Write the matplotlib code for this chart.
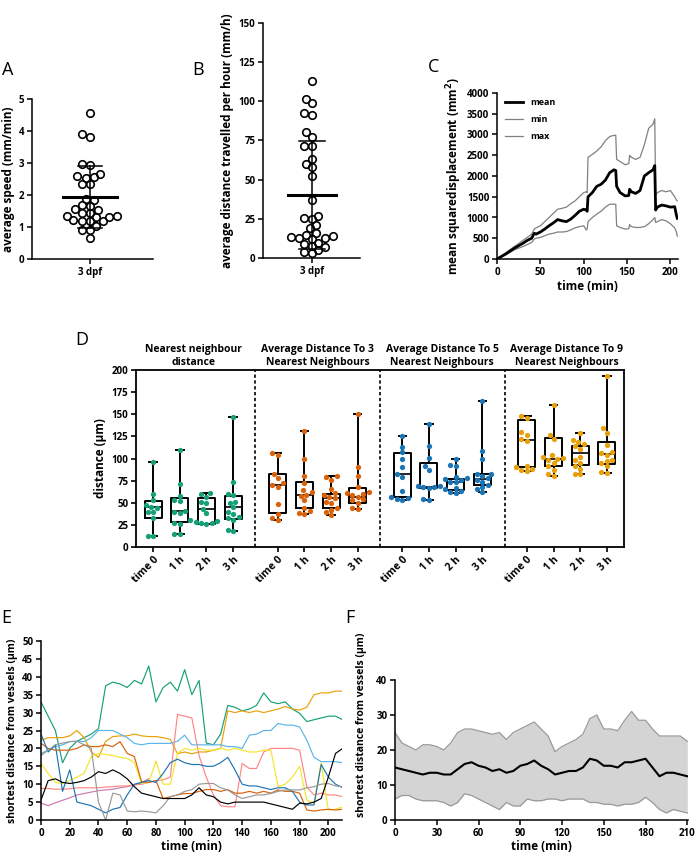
import numpy as np
import matplotlib
matplotlib.use('Agg')
import matplotlib.pyplot as plt
from matplotlib.lines import Line2D
import matplotlib.transforms as mtransforms

plt.rcParams['font.family'] = ['Open Sans', 'DejaVu Sans']
plt.rcParams['font.weight'] = 'bold'
plt.rcParams['axes.labelweight'] = 'bold'
plt.rcParams['mathtext.default'] = 'bf'

W, H = 697, 863
fig = plt.figure(figsize=(W / 100, H / 100), dpi=100)

# ---------------- data ----------------
speed = [4.57, 3.9, 3.82, 2.98, 2.94, 2.66, 2.6, 2.53, 2.55, 2.35, 2.33, 1.88, 1.84,
         1.7, 1.65, 1.55, 1.52, 1.45, 1.43, 1.35, 1.32, 1.3, 1.35, 1.2, 1.2, 1.22,
         1.2, 1.03, 0.9, 0.9, 0.66]
dist_hour = [113, 101.5, 99, 92.5, 91.5, 80.5, 77, 71.5, 71.5, 63, 60, 58, 52.5, 37,
             27, 25.5, 25, 21, 19, 16, 15, 14, 13.5, 13, 12.5, 12, 9.5, 9, 7.5, 7, 5, 4, 3]

msd_t = [0, 10, 20, 30, 35, 40, 43, 45, 50, 55, 60, 65, 70, 75, 80, 85, 90, 95, 100,
         103, 104, 105, 110, 115, 120, 125, 130, 135, 137, 138, 142, 148, 152, 153,
         155, 160, 165, 170, 175, 180, 182, 183, 185, 190, 195, 200, 205, 207, 208]
msd_mean = [0, 120, 260, 380, 450, 500, 620, 600, 650, 720, 800, 870, 950, 920, 900,
            960, 1050, 1150, 1200, 1180, 1150, 1500, 1600, 1750, 1800, 1900, 2080, 2150,
            2130, 1750, 1600, 1520, 1530, 1680, 1620, 1580, 1650, 2000, 2080, 2150, 2250,
            1180, 1250, 1300, 1280, 1250, 1260, 1050, 980]
msd_min = [0, 150, 300, 450, 520, 600, 720, 750, 800, 900, 1000, 1100, 1200, 1220, 1250,
           1330, 1400, 1500, 1600, 1620, 1600, 2450, 2520, 2600, 2700, 2850, 2950, 2980,
           2980, 2400, 2350, 2270, 2300, 2500, 2450, 2400, 2450, 2750, 3150, 3250, 3380,
           1550, 1600, 1650, 1620, 1650, 1500, 1420, 1400]
msd_max = [0, 100, 220, 300, 350, 400, 480, 500, 520, 560, 600, 620, 650, 650, 660, 700,
           750, 780, 800, 700, 720, 900, 1000, 1080, 1150, 1250, 1320, 1320, 1320, 800,
           760, 720, 730, 830, 780, 760, 760, 780, 850, 950, 1000, 880, 900, 950, 920,
           850, 750, 650, 550]

d_titles = ['Nearest neighbour\ndistance', 'Average Distance To 3\nNearest Neighbours',
            'Average Distance To 5\nNearest Neighbours', 'Average Distance To 9\nNearest Neighbours']
d_ticks = ['time 0', '1 h', '2 h', '3 h']
d_colors = ['#16a077', '#d9620a', '#1b75b5', '#e8a10a']
d_points = [
    [[96, 60, 53, 47, 45, 44, 40, 39, 33, 12, 12],
     [110, 71, 58, 53, 52, 41, 40, 38, 27, 26, 15, 15],
     [61, 60, 56, 51, 50, 43, 38, 31, 29, 28, 27, 27, 26],
     [147, 73, 60, 59, 51, 50, 45, 40, 37, 34, 33, 31, 19, 18]],
    [[106, 104, 83, 78, 72, 70, 68, 49, 37, 33, 31],
     [131, 99, 80, 72, 64, 62, 59, 58, 53, 44, 41, 38, 37],
     [80, 79, 76, 66, 61, 59, 57, 55, 51, 50, 44, 42, 40, 36],
     [150, 90, 80, 68, 62, 61, 60, 59, 57, 54, 53, 50, 44, 43]],
    [[125, 113, 107, 99, 90, 83, 79, 63, 56, 55, 54, 53],
     [139, 114, 101, 92, 87, 69, 69, 68, 68, 67, 54, 53],
     [100, 93, 92, 79, 78, 77, 76, 74, 73, 67, 65, 63, 62, 61],
     [165, 108, 100, 83, 82, 80, 78, 76, 74, 70, 68, 65, 62]],
    [[148, 146, 130, 127, 122, 120, 92, 90, 88, 87, 86],
     [161, 127, 122, 104, 102, 101, 100, 98, 95, 91, 87, 83, 80],
     [129, 121, 119, 116, 114, 111, 102, 98, 95, 92, 88, 83, 82],
     [193, 134, 129, 115, 107, 106, 104, 98, 97, 95, 91, 85, 84]],
]
d_q1 = [[33, 28, 26, 32], [38, 44, 44, 50], [56, 67, 64, 70], [90, 92, 93, 94]]
d_med = [[45, 41, 43, 45], [70, 59, 55, 57], [83, 68, 74, 77], [121, 100, 106, 105]]
d_q3 = [[52, 55, 55, 58], [82, 74, 60, 67], [106, 95, 77, 83], [144, 123, 114, 119]]

e_t = list(range(0, 211, 5))
e_series = {
    '#16a077': [33, 29, 25, 16, 20, 22, 23, 24, 25.5, 37.5, 38.5, 38, 37, 39, 38, 43, 33, 37,
                38.5, 36, 42, 35, 39, 21.5, 21, 24, 32, 31.5, 30.5, 31, 32, 35.5, 33, 32.5,
                33, 31, 29.8, 27.5, 28, 28.5, 29, 29, 28],
    '#e8a10a': [22.3, 23, 23, 23, 23.5, 25, 23, 19, 17.5, 22, 23.3, 23.5, 23.5, 24, 23.5,
                23.3, 23.3, 23, 22.5, 18.5, 19, 18.5, 19, 19, 19.5, 20, 30.5, 30, 30.5, 30,
                30.5, 30, 30.5, 31, 31.7, 31, 30.7, 31.5, 35, 35.5, 35.5, 36, 36],
    '#5ab4e8': [18.6, 19.5, 20.5, 21, 21.9, 22, 21.9, 23, 25, 25, 25, 24, 23, 21.4, 21, 21.4,
                21.4, 21.4, 21.4, 22, 23.7, 21, 21, 21, 21, 21, 20.5, 20.5, 20, 23.7, 24, 25,
                25, 27, 26.5, 26.5, 26, 22.3, 17.5, 16.3, 16.3, 16.3, 16],
    '#ff8585': [8.8, 8.8, 8.6, 8.6, 8.7, 9, 9, 9, 9, 9.2, 9.3, 9.5, 9.5, 9.8, 10, 10.5, 11,
                11.2, 12, 29.5, 29, 28.5, 18, 12, 7, 4, 3.7, 3.7, 15.8, 14.4, 14.4, 19, 20,
                20, 20, 20, 19.5, 9.3, 7, 7.5, 7, 7, 6.5],
    '#f5e52a': [15.8, 13, 10.5, 10.2, 11, 12, 13, 17.7, 18.6, 18.3, 18, 17.5, 17.2, 16, 10.2,
                10.5, 16.5, 10, 10, 18.6, 20, 19.5, 20, 19.5, 19.5, 20, 19.5, 20, 19.5, 19,
                19, 19.5, 19.5, 9.3, 10, 12, 15, 5.5, 4.7, 16, 2.8, 3, 3.7],
    '#d9620a': [21.4, 20, 19.5, 19.5, 19.5, 20, 21, 20.5, 20.5, 21, 20.5, 21.9, 18.6, 17.7,
                10.7, 10.5, 11, 6, 6.5, 7, 7.4, 7.4, 8, 8.5, 8.5, 8, 8.5, 7.5, 7.5, 8, 7.5,
                8, 7.5, 8.4, 8, 8, 7.5, 2.8, 2.5, 2.8, 3, 2.8, 3],
    '#1b75b5': [24, 19, 21, 8, 14, 5, 4.5, 4, 3, 2, 3, 3.5, 7, 10, 10.5, 11, 10.5, 13, 16, 17,
                16, 15.5, 15.5, 15, 15, 16, 17.5, 14, 10, 9.5, 9.5, 9, 8.5, 9, 9, 8, 5, 4.2,
                4.2, 15.5, 12, 10, 9],
    '#999999': [18, 19.5, 21, 21.5, 21.9, 22, 21, 20, 5, 0, 7.5, 7, 2.5, 2.3, 2.5, 2.3, 2, 4,
                6.5, 7, 8, 8.5, 10, 10.2, 10.2, 9, 8.4, 7, 6, 6.5, 7, 7, 7.4, 8, 8.4, 8.4,
                8.4, 9, 9.3, 10, 10.2, 9.5, 9.3],
    '#000000': [5.6, 11, 11.5, 10.5, 10.2, 10.5, 11, 12, 13.5, 13, 14, 13, 11.5, 9.3, 7.5, 7,
                6.5, 6, 6, 6, 6, 7, 9, 7, 6.5, 5, 4.5, 5, 5, 5, 5, 5, 4.5, 4, 3.5, 3, 4.7,
                4.5, 5, 6, 12, 18.6, 20],
}
e_pink_t = list(range(0, 76, 5))
e_pink = [4.7, 4, 4.8, 5.5, 6.2, 7, 7.4, 7.8, 8.2, 8.4, 8.6, 9, 9.3, 9.8, 10.5, 11.5]

f_t = list(range(0, 211, 5))
f_upper = [25, 22, 21, 20, 21.5, 21.5, 21, 20, 22, 25, 26, 26, 25.5, 25, 24.5, 25, 23, 25,
           26, 27, 28, 26, 24, 19.5, 21, 22, 23, 24.5, 29, 30, 26, 26, 25.5, 28.5, 31, 28.5,
           28.5, 26, 24, 24, 24, 24, 22.5]
f_lower = [6, 7, 7, 6, 5.5, 5.5, 5.5, 5, 4, 5, 7.5, 7, 6, 5, 4, 3, 5, 4, 4, 6, 5.5, 5.5, 6,
           6, 5.5, 6, 6, 6, 5, 5, 4.5, 4.5, 4, 4.5, 4.5, 5, 6.5, 5, 3, 2, 3, 2.5, 2]
f_mean = [15, 14.5, 14, 13.5, 13, 13.5, 13.5, 13, 13, 14.5, 16, 16.5, 15.5, 15, 14, 14.5,
          13.5, 14, 15.5, 16, 17, 15.5, 14.5, 13, 13.5, 14, 14, 15, 17.5, 17, 15.5, 15.5, 15,
          16.5, 16.5, 17, 17.5, 15, 12.5, 13.5, 13.5, 13, 12.5]


def add_axes_px(left, top, right, bottom):
    return fig.add_axes([left / W, 1 - bottom / H, (right - left) / W, (bottom - top) / H])


def swarm_x(ax, x0, vals, diam, step=0.3):
    vals = np.asarray(vals, float)
    disp = ax.transData.transform(np.column_stack([np.full(len(vals), x0), vals]))
    cx = disp[0, 0]
    cands = sorted(np.arange(-40, 41) * diam * step, key=abs)
    placed = []
    xs = np.empty(len(vals))
    for i in np.argsort(vals):
        y = disp[i, 1]
        for c in cands:
            if all((cx + c - px) ** 2 + (y - py) ** 2 >= diam ** 2 for px, py in placed):
                break
        placed.append((cx + c, y))
        xs[i] = cx + c
    return ax.transData.inverted().transform(np.column_stack([xs, disp[:, 1]]))[:, 0]


def style_simple(ax):
    for s in ['top', 'right']:
        ax.spines[s].set_visible(False)
    for s in ['left', 'bottom']:
        ax.spines[s].set_linewidth(1.1)
    ax.tick_params(direction='out', length=3.5, width=1.1, labelsize=7, pad=2)


def scatter_panel(ax, vals, xlim, ylim, yticks, ylabel, mean_hw, cap_hw):
    style_simple(ax)
    ax.set_xlim(*xlim)
    ax.set_ylim(*ylim)
    ax.set_yticks(yticks)
    ax.set_xticks([0])
    ax.set_xticklabels(['3 dpf'])
    xs = swarm_x(ax, 0, vals, 7.0)
    m, sd = np.mean(vals), np.std(vals, ddof=1)
    ax.plot([0, 0], [m - sd, m + sd], color='black', lw=1.1, zorder=2)
    ax.plot([-cap_hw, cap_hw], [m + sd] * 2, color='black', lw=1.1)
    ax.plot([-cap_hw, cap_hw], [m - sd] * 2, color='black', lw=1.1)
    ax.plot([-mean_hw, mean_hw], [m, m], color='black', lw=2.2, zorder=4)
    ax.plot(xs, vals, 'o', ms=5.4, mfc='none', mec='black', mew=1.2, zorder=3)
    ax.set_ylabel(ylabel, fontsize=8.5, labelpad=3)


# ---------------- A ----------------
axA = add_axes_px(32, 99, 153, 259)
scatter_panel(axA, speed, (-1, 1.088), (0, 5), range(0, 6),
              'average speed (mm/min)', 0.466, 0.207)

# ---------------- B ----------------
axB = add_axes_px(263, 23, 360, 258)
scatter_panel(axB, dist_hour, (-1, 0.98), (0, 150), range(0, 151, 25),
              'average distance travelled per hour (mm/h)', 0.49, 0.275)

# ---------------- C ----------------
axC = add_axes_px(497, 93, 678, 259)
style_simple(axC)
axC.plot(msd_t, msd_min, color='#808080', lw=0.9)
axC.plot(msd_t, msd_max, color='#808080', lw=0.9)
axC.plot(msd_t, msd_mean, color='black', lw=2.0)
axC.set_xlim(0, 208.8)
axC.set_ylim(0, 4000)
axC.set_xticks([0, 50, 100, 150, 200])
axC.set_yticks(range(0, 4001, 500))
axC.set_xlabel('time (min)', fontsize=8.5, labelpad=2)
axC.set_ylabel('mean squaredisplacement (mm$^2$)', fontsize=8.5, labelpad=2)
handles = [Line2D([], [], color='black', lw=2.0), Line2D([], [], color='#808080', lw=0.9),
           Line2D([], [], color='#808080', lw=0.9)]
axC.legend(handles, ['mean', 'min', 'max'], loc='upper left', frameon=False, fontsize=6.5,
           handlelength=2.0, labelspacing=0.9, bbox_to_anchor=(0.0, 1.02))

# ---------------- D ----------------
axD = add_axes_px(136, 370, 624, 547)
gap = 14 / 3
axD.set_xlim(-0.64, 3 * gap + 3.64)
axD.set_ylim(0, 200)
axD.set_yticks(range(0, 201, 25))
for s in axD.spines.values():
    s.set_linewidth(1.3)
axD.tick_params(direction='out', length=3.5, width=1.2, labelsize=7, pad=2)
pos_all, lab_all = [], []
for g in range(4):
    pos = [g * gap + i for i in range(4)]
    pos_all += pos
    lab_all += d_ticks
    stats = [dict(q1=d_q1[g][i], med=d_med[g][i], q3=d_q3[g][i],
                  whislo=min(d_points[g][i]), whishi=max(d_points[g][i])) for i in range(4)]
    axD.bxp(stats, positions=pos, widths=0.64, showfliers=False,
            boxprops=dict(color='black', lw=1.4), whiskerprops=dict(color='black', lw=1.4),
            capprops=dict(color='black', lw=1.4), medianprops=dict(color='black', lw=1.2),
            capwidths=0.28, manage_ticks=False)
    for i in range(4):
        xs = swarm_x(axD, pos[i], d_points[g][i], 5.2, step=0.35)
        axD.plot(xs, d_points[g][i], 'o', ms=3.8, color=d_colors[g], mec='none', zorder=5)
    axD.text(g * gap + 1.5, 1.012, d_titles[g], transform=mtransforms.blended_transform_factory(
        axD.transData, axD.transAxes), ha='center', va='bottom', fontsize=7.5, linespacing=1.25)
    if g < 3:
        axD.axvline(g * gap + 3 + (gap - 3) / 2, color='black', lw=1.2, ls=(0, (2, 1.5)))
axD.set_xticks(pos_all)
axD.set_xticklabels(lab_all, rotation=45, ha='right', rotation_mode='anchor', fontsize=7.5)
axD.set_ylabel('distance (μm)', fontsize=8.5, labelpad=3)

# ---------------- E ----------------
axE = add_axes_px(41, 641, 342, 820)
style_simple(axE)
axE.plot(e_pink_t, e_pink, color='#cc79b0', lw=0.85)
for col, vals in e_series.items():
    axE.plot(e_t, vals, color=col, lw=0.85)
axE.set_xlim(0, 209.5)
axE.set_ylim(0, 50)
axE.set_xticks(range(0, 201, 20))
axE.set_yticks(range(0, 51, 5))
axE.set_xlabel('time (min)', fontsize=8.5, labelpad=1)
axE.set_ylabel('shortest distance from vessels (μm)', fontsize=7.5, labelpad=3)

# ---------------- F ----------------
axF = add_axes_px(395, 680, 688, 820)
style_simple(axF)
axF.fill_between(f_t, f_lower, f_upper, color='#d4d4d4', lw=0)
axF.plot(f_t, f_upper, color='#999999', lw=0.9)
axF.plot(f_t, f_lower, color='#999999', lw=0.9)
axF.plot(f_t, f_mean, color='black', lw=1.5)
axF.set_xlim(0, 210.5)
axF.set_ylim(0, 40)
axF.set_xticks(range(0, 211, 30))
axF.set_yticks(range(0, 41, 10))
axF.set_xlabel('time (min)', fontsize=8.5, labelpad=1)
axF.set_ylabel('shortest distance from vessels (μm)', fontsize=7.5)
axF.yaxis.set_label_coords(-0.095, 0.68)

# panel letters
for txt, x, y in [('A', 2, 70), ('B', 192, 70), ('C', 428, 67), ('D', 75, 340),
                  ('E', 1, 618), ('F', 345, 618)]:
    fig.text(x / W, 1 - y / H, txt, fontsize=13, fontweight='normal', ha='left', va='center')

fig.savefig('out.png', dpi=100)
